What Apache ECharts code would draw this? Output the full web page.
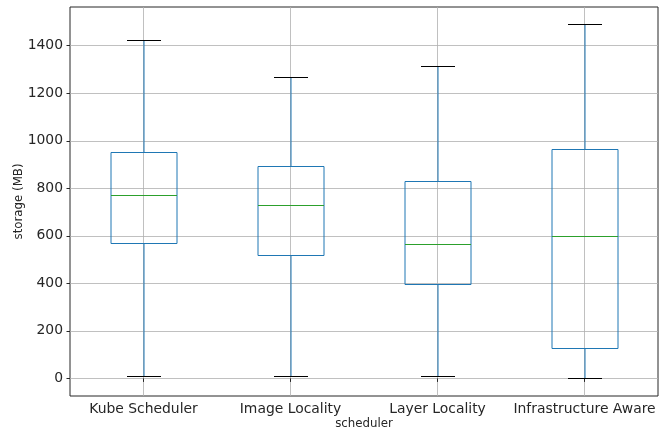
<!DOCTYPE html>
<html>
<head>
<meta charset="utf-8">
<script src="https://cdn.jsdelivr.net/npm/echarts@6/dist/echarts.min.js"></script>
<style>
  html, body { margin: 0; padding: 0; background: #fff; }
  #chart { width: 666px; height: 432px; }
</style>
</head>
<body>
<div id="chart"></div>
<script>
const categories = ["Kube Scheduler", "Image Locality", "Layer Locality", "Infrastructure Aware"];
const lowWhisker = [10, 10, 10, 0];
const q1 = [570, 519, 397, 130];
const median = [771, 729, 565, 599];
const q3 = [952, 893, 832, 966];
const highWhisker = [1423, 1267, 1314, 1490];
const yTicks = [0, 200, 400, 600, 800, 1000, 1200, 1400];

const BLUE = "#1f77b4";
const GREEN = "#2ca02c";
const TEXT = "#262626";
const FONT = "DejaVu Sans";

const boxData = categories.map((c, i) => [i, lowWhisker[i], q1[i], median[i], q3[i], highWhisker[i]]);

const crisp = (v) => Math.round(v) + 0.5;

function renderBox(params, api) {
  const i = api.value(0);
  const band = api.size([1, 0])[0];
  const xc = Math.round(api.coord([i, 0])[0]);
  const y = (k) => crisp(api.coord([i, api.value(k)])[1]);
  const half = Math.round(band * 0.227);
  const capHalf = Math.round(band * 0.113);
  const line = (x1, y1, x2, y2, color) => ({
    type: "line",
    shape: { x1, y1, x2, y2 },
    style: { stroke: color, lineWidth: 1, fill: null },
  });
  return {
    type: "group",
    children: [
      line(xc, y(1), xc, y(2), BLUE),
      line(xc, y(4), xc, y(5), BLUE),
      {
        type: "rect",
        shape: { x: xc - half, y: y(4), width: half * 2, height: y(2) - y(4) },
        style: { stroke: BLUE, fill: "none", lineWidth: 1 },
      },
      line(xc - half, y(3), xc + half, y(3), GREEN),
      line(xc - capHalf, y(1), xc + capHalf, y(1), "#000"),
      line(xc - capHalf, y(5), xc + capHalf, y(5), "#000"),
    ],
  };
}

const chart = echarts.init(document.getElementById("chart"), null, { renderer: "canvas" });

chart.setOption({
  animation: false,
  backgroundColor: "#fff",
  textStyle: { fontFamily: FONT },
  grid: {
    left: 70,
    right: 8,
    top: 7,
    bottom: 36,
    show: true,
    borderColor: TEXT,
    borderWidth: 1,
    containLabel: false,
    outerBoundsMode: "none",
  },
  xAxis: {
    type: "category",
    data: categories,
    boundaryGap: true,
    name: "scheduler",
    nameLocation: "middle",
    nameGap: 22,
    nameMoveOverlap: false,
    nameTextStyle: { fontSize: 11.8, color: TEXT, fontFamily: FONT },
    axisLine: { show: false },
    axisTick: { show: true, alignWithLabel: true, length: 3.5, lineStyle: { color: TEXT } },
    axisLabel: { fontSize: 13.9, color: TEXT, fontFamily: FONT, margin: 6, interval: 0 },
    splitLine: { show: true, alignWithLabel: true, lineStyle: { color: "#b0b0b0", width: 0.8 } },
  },
  yAxis: {
    type: "value",
    min: -74,
    max: 1563,
    name: "storage (MB)",
    nameLocation: "middle",
    nameGap: 45,
    nameMoveOverlap: false,
    nameTextStyle: { fontSize: 11.8, color: TEXT, fontFamily: FONT },
    axisLine: { show: false },
    axisTick: { show: true, length: 3.5, lineStyle: { color: TEXT }, customValues: yTicks },
    axisLabel: {
      fontSize: 13.9,
      color: TEXT,
      fontFamily: FONT,
      margin: 7,
      customValues: yTicks,
      formatter: (v) => String(v),
    },
    splitLine: { show: true, lineStyle: { color: "#b0b0b0", width: 0.8 } },
  },
  series: [
    {
      type: "custom",
      renderItem: renderBox,
      data: boxData,
      encode: { x: 0, y: [1, 2, 3, 4, 5] },
      silent: true,
      clip: true,
      z: 5,
    },
  ],
});
</script>
</body>
</html>
